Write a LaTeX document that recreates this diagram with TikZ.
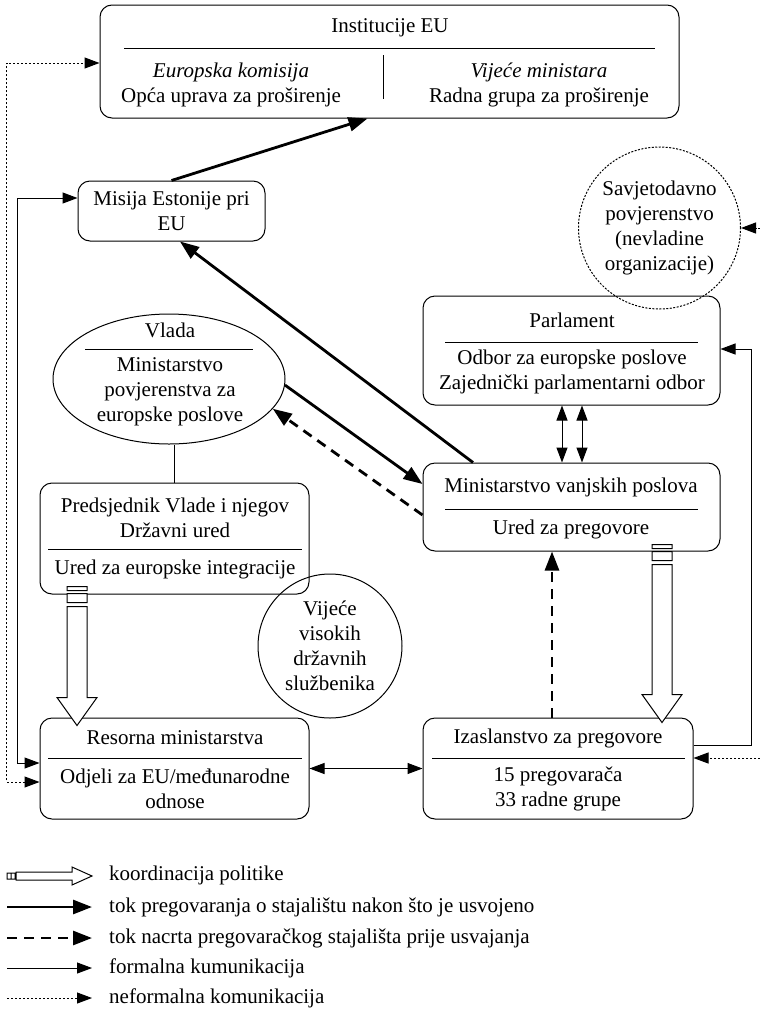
\documentclass[tikz,border=0pt]{standalone}
\usepackage{fontspec}
\setmainfont{Liberation Serif}
\usetikzlibrary{arrows.meta,calc,shapes.geometric}

\tikzset{
  ftip/.tip={Triangle[length=15pt,width=11pt]},
  ntip/.tip={Triangle[length=19pt,width=14pt]},
  lbl/.style={font=\fontsize{21}{25}\selectfont, align=center, inner sep=0pt},
  box/.style={draw, rounded corners=12pt, line width=1pt, inner sep=0pt},
  sep/.style={line width=1pt},
  neg/.style={line width=2.8pt, -ntip},
  draft/.style={neg, dash pattern=on 10pt off 7pt},
  formal/.style={line width=1pt, -ftip},
  informal/.style={formal, dash pattern=on 2pt off 2pt},
  policy/.style={draw, fill=white, line width=1pt}
}

% hollow arrow: #1 start, #2 tip
\newcommand{\policyarrow}[2]{%
  \draw[policy] let \p1=#1, \p2=#2 in
    (\x1-10pt,\y1) rectangle (\x1+10pt,\y1-4pt)
    (\x1-10pt,\y1-7pt) rectangle (\x1+10pt,\y1-16pt)
    (\x1-10pt,\y1-20pt) -- (\x1-10pt,\y2+28pt) -- (\x1-20pt,\y2+28pt) -- (\x1,\y2)
    -- (\x1+20pt,\y2+28pt) -- (\x1+10pt,\y2+28pt) -- (\x1+10pt,\y1-20pt) -- cycle;}

\begin{document}
\begin{tikzpicture}[x=1pt,y=-1pt]
\useasboundingbox (0,0) rectangle (760,1015);

% Institucije EU
\node[box, minimum width=579, minimum height=113] (inst) at (389.5,61.5) {};
\node[lbl] (instt) at (390,28) {Institucije EU};
\draw[sep] (124,48) -- (655,48);
\draw[sep] (383,55) -- (383,99);
\node[lbl] (ek) at (231,85) {\textit{Europska komisija}\\Opća uprava za proširenje};
\node[lbl] (vm) at (539,85) {\textit{Vijeće ministara}\\Radna grupa za proširenje};

\node[box, lbl, rounded corners=12pt, minimum width=187, minimum height=60] (misija) at (171.5,211) {Misija Estonije pri\\EU};

\node[draw, circle, lbl, line width=1pt, dash pattern=on 2pt off 1.5pt, minimum size=162] (sav) at (659.5,228) {Savjetodavno\\povjerenstvo\\(nevladine\\organizacije)};

% Parlament
\node[box, minimum width=297, minimum height=109] (parl) at (571.5,350.5) {};
\node[lbl] (parlt) at (572,320) {Parlament};
\draw[sep] (445,342) -- (698,342);
\node[lbl] (parlb) at (572,372) {Odbor za europske poslove\\Zajednički parlamentarni odbor};

% Vlada
\node[draw, ellipse, line width=1pt, inner sep=0pt, minimum width=232, minimum height=130] (vlada) at (169,379) {};
\node[lbl] (vladat) at (170,330) {Vlada};
\draw[sep] (85,349) -- (253,349);
\node[lbl] (vladab) at (170,392) {Ministarstvo\\povjerenstva za\\europske poslove};

% Ministarstvo vanjskih poslova
\node[box, minimum width=297, minimum height=88] (mvp) at (571.5,507) {};
\node[lbl] (mvpt) at (571,487) {Ministarstvo vanjskih poslova};
\draw[sep] (445,509) -- (698,509);
\node[lbl] (mvpb) at (571,529) {Ured za pregovore};

% Predsjednik Vlade
\node[box, minimum width=269, minimum height=111] (pred) at (174.5,538.5) {};
\node[lbl] (predt) at (175,518) {Predsjednik Vlade i njegov\\Državni ured};
\draw[sep] (48,549) -- (302,549);
\node[lbl] (predb) at (175,569) {Ured za europske integracije};

\node[draw, circle, lbl, line width=1pt, minimum size=144] (vv) at (330,646) {Vijeće\\visokih\\državnih\\službenika};

% Resorna ministarstva
\node[box, minimum width=269, minimum height=101] (res) at (174.5,768.5) {};
\node[lbl] (rest) at (175,738) {Resorna ministarstva};
\draw[sep] (48,758) -- (302,758);
\node[lbl] (resb) at (175,789) {Odjeli za EU/međunarodne\\odnose};

% Izaslanstvo
\node[box, minimum width=270, minimum height=101] (izas) at (558,768.5) {};
\node[lbl] (izast) at (558,738) {Izaslanstvo za pregovore};
\draw[sep] (432,758) -- (685,758);
\node[lbl] (izasb) at (558,789) {15 pregovarača\\33 radne grupe};

% negotiation flow
\draw[neg] (misija.north) -- ([xshift=-22pt]inst.south);
\draw[neg] ([xshift=-98.5pt]mvp.north) -- ([xshift=8.5pt]misija.south);
\draw[neg] (vlada.-3) -- ([yshift=23pt]mvp.west);
\draw[draft] ([yshift=-8pt]mvp.west) -- (vlada.-16);
\draw[draft] ([xshift=-6pt]izas.north) -- ([xshift=-6pt]izas.north |- mvp.south);

% formal
\draw[sep] (pred.north) -- (pred.north |- vlada.south);
\draw[formal, ftip-ftip] ([xshift=-9.5pt]parl.south) -- ([xshift=-9.5pt]mvp.north);
\draw[formal, ftip-ftip] ([xshift=10.5pt]parl.south) -- ([xshift=10.5pt]mvp.north);
\draw[formal, ftip-ftip] (res.east) -- (izas.west);
\draw[formal, ftip-ftip] ([yshift=5.5pt]res.west) -- ++(-22,0) |- ([yshift=13pt]misija.west);
\draw[formal] ([yshift=23.5pt]izas.east) -- ++(58,0) |- ([yshift=1.5pt]parl.east);

% informal
\draw[informal, ftip-ftip] ([yshift=-13.5pt]res.west) -- ++(-33,0) |- ([yshift=-1.5pt]inst.west);
\coordinate (ngo) at (760,228);
\draw[informal] (ngo) -- (sav.east);
\coordinate (ngo2) at (760,758);
\draw[informal] (ngo2) -- (ngo2 -| izas.east);

% policy coordination
\coordinate (pa1) at ([xshift=-97.5pt,yshift=8pt]pred.south);
\coordinate (pb1) at ([xshift=-97.5pt,yshift=-8pt]res.north);
\policyarrow{(pa1)}{(pb1)}
\coordinate (pa2) at ([xshift=90.5pt,yshift=7pt]mvp.south);
\coordinate (pb2) at ([xshift=104pt,yshift=-5pt]izas.north);
\policyarrow{(pa2)}{(pb2)}

% legend
\draw[policy] (7,873) rectangle (11,879) (11,873) rectangle (15,879)
  (16,872) -- (72,872) -- (72,867) -- (92,876) -- (72,885) -- (72,880) -- (16,880) -- cycle;
\node[lbl, anchor=west] (k1) at (109,875) {koordinacija politike};
\draw[neg] (7,907) -- (92,907);
\node[lbl, anchor=west] (k2) at (109,907) {tok pregovaranja o stajalištu nakon što je usvojeno};
\draw[draft] (7,938) -- (92,938);
\node[lbl, anchor=west] (k3) at (109,938) {tok nacrta pregovaračkog stajališta prije usvajanja};
\draw[formal] (7,968) -- (92,968);
\node[lbl, anchor=west] (k4) at (109,968) {formalna kumunikacija};
\draw[informal] (7,998) -- (92,998);
\node[lbl, anchor=west] (k5) at (109,998) {neformalna komunikacija};
\end{tikzpicture}
\end{document}
